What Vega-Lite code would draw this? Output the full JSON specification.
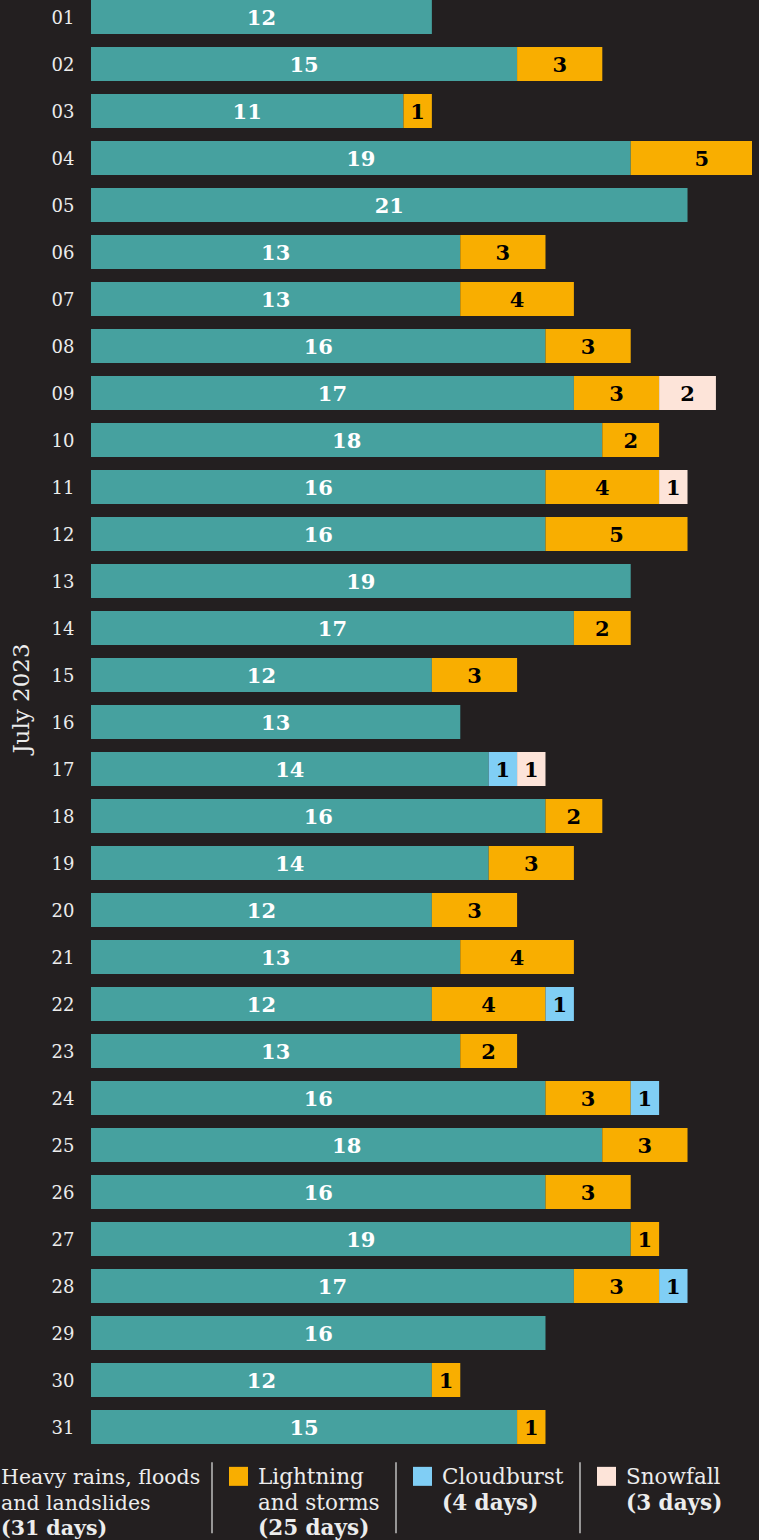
{
  "$schema": "https://vega.github.io/schema/vega-lite/v6.json",
  "width": 661,
  "height": 1444,
  "autosize": {"type": "none"},
  "padding": {"left": 91, "top": 0, "right": 7, "bottom": 96},
  "background": "#231f20",
  "config": {"view": {"stroke": null}},
  "datasets": {
    "days": [
      {"day": "01", "cat": "heavy", "k": 1, "n": 12},
      {"day": "02", "cat": "heavy", "k": 1, "n": 15},
      {"day": "02", "cat": "lightning", "k": 2, "n": 3},
      {"day": "03", "cat": "heavy", "k": 1, "n": 11},
      {"day": "03", "cat": "lightning", "k": 2, "n": 1},
      {"day": "04", "cat": "heavy", "k": 1, "n": 19},
      {"day": "04", "cat": "lightning", "k": 2, "n": 5},
      {"day": "05", "cat": "heavy", "k": 1, "n": 21},
      {"day": "06", "cat": "heavy", "k": 1, "n": 13},
      {"day": "06", "cat": "lightning", "k": 2, "n": 3},
      {"day": "07", "cat": "heavy", "k": 1, "n": 13},
      {"day": "07", "cat": "lightning", "k": 2, "n": 4},
      {"day": "08", "cat": "heavy", "k": 1, "n": 16},
      {"day": "08", "cat": "lightning", "k": 2, "n": 3},
      {"day": "09", "cat": "heavy", "k": 1, "n": 17},
      {"day": "09", "cat": "lightning", "k": 2, "n": 3},
      {"day": "09", "cat": "snowfall", "k": 4, "n": 2},
      {"day": "10", "cat": "heavy", "k": 1, "n": 18},
      {"day": "10", "cat": "lightning", "k": 2, "n": 2},
      {"day": "11", "cat": "heavy", "k": 1, "n": 16},
      {"day": "11", "cat": "lightning", "k": 2, "n": 4},
      {"day": "11", "cat": "snowfall", "k": 4, "n": 1},
      {"day": "12", "cat": "heavy", "k": 1, "n": 16},
      {"day": "12", "cat": "lightning", "k": 2, "n": 5},
      {"day": "13", "cat": "heavy", "k": 1, "n": 19},
      {"day": "14", "cat": "heavy", "k": 1, "n": 17},
      {"day": "14", "cat": "lightning", "k": 2, "n": 2},
      {"day": "15", "cat": "heavy", "k": 1, "n": 12},
      {"day": "15", "cat": "lightning", "k": 2, "n": 3},
      {"day": "16", "cat": "heavy", "k": 1, "n": 13},
      {"day": "17", "cat": "heavy", "k": 1, "n": 14},
      {"day": "17", "cat": "cloudburst", "k": 3, "n": 1},
      {"day": "17", "cat": "snowfall", "k": 4, "n": 1},
      {"day": "18", "cat": "heavy", "k": 1, "n": 16},
      {"day": "18", "cat": "lightning", "k": 2, "n": 2},
      {"day": "19", "cat": "heavy", "k": 1, "n": 14},
      {"day": "19", "cat": "lightning", "k": 2, "n": 3},
      {"day": "20", "cat": "heavy", "k": 1, "n": 12},
      {"day": "20", "cat": "lightning", "k": 2, "n": 3},
      {"day": "21", "cat": "heavy", "k": 1, "n": 13},
      {"day": "21", "cat": "lightning", "k": 2, "n": 4},
      {"day": "22", "cat": "heavy", "k": 1, "n": 12},
      {"day": "22", "cat": "lightning", "k": 2, "n": 4},
      {"day": "22", "cat": "cloudburst", "k": 3, "n": 1},
      {"day": "23", "cat": "heavy", "k": 1, "n": 13},
      {"day": "23", "cat": "lightning", "k": 2, "n": 2},
      {"day": "24", "cat": "heavy", "k": 1, "n": 16},
      {"day": "24", "cat": "lightning", "k": 2, "n": 3},
      {"day": "24", "cat": "cloudburst", "k": 3, "n": 1},
      {"day": "25", "cat": "heavy", "k": 1, "n": 18},
      {"day": "25", "cat": "lightning", "k": 2, "n": 3},
      {"day": "26", "cat": "heavy", "k": 1, "n": 16},
      {"day": "26", "cat": "lightning", "k": 2, "n": 3},
      {"day": "27", "cat": "heavy", "k": 1, "n": 19},
      {"day": "27", "cat": "lightning", "k": 2, "n": 1},
      {"day": "28", "cat": "heavy", "k": 1, "n": 17},
      {"day": "28", "cat": "lightning", "k": 2, "n": 3},
      {"day": "28", "cat": "cloudburst", "k": 3, "n": 1},
      {"day": "29", "cat": "heavy", "k": 1, "n": 16},
      {"day": "30", "cat": "heavy", "k": 1, "n": 12},
      {"day": "30", "cat": "lightning", "k": 2, "n": 1},
      {"day": "31", "cat": "heavy", "k": 1, "n": 15},
      {"day": "31", "cat": "lightning", "k": 2, "n": 1}
    ],
    "legend": [
      {"cat": "heavy", "line": 1, "text": "Heavy rains, floods", "bold": false},
      {"cat": "heavy", "line": 2, "text": "and landslides", "bold": false},
      {"cat": "heavy", "line": 3, "text": "(31 days)", "bold": true},
      {"cat": "lightning", "line": 1, "text": "Lightning", "bold": false},
      {"cat": "lightning", "line": 2, "text": "and storms", "bold": false},
      {"cat": "lightning", "line": 3, "text": "(25 days)", "bold": true},
      {"cat": "cloudburst", "line": 1, "text": "Cloudburst", "bold": false},
      {"cat": "cloudburst", "line": 2, "text": "(4 days)", "bold": true},
      {"cat": "snowfall", "line": 1, "text": "Snowfall", "bold": false},
      {"cat": "snowfall", "line": 2, "text": "(3 days)", "bold": true}
    ]
  },
  "layer": [
    {
      "data": {"name": "days"},
      "transform": [
        {"stack": "n", "groupby": ["day"], "sort": [{"field": "k", "order": "ascending"}], "as": ["s0", "s1"]},
        {"calculate": "(datum.s0 + datum.s1) / 2", "as": "mid"}
      ],
      "encoding": {
        "y": {
          "field": "day",
          "type": "ordinal",
          "scale": {"paddingInner": 0.2766, "paddingOuter": 0},
          "axis": {
            "title": "July 2023",
            "domain": false,
            "ticks": false,
            "grid": false,
            "labelPadding": 17,
            "labelOffset": 2,
            "labelFont": "DejaVu Serif",
            "labelFontSize": 18,
            "labelColor": "#ececec",
            "titleFont": "DejaVu Serif",
            "titleFontSize": 23,
            "titleFontWeight": "normal",
            "titleColor": "#ececec",
            "titleAngle": -90,
            "titleAlign": "center",
            "titleBaseline": "alphabetic",
            "titleX": -63,
            "titleY": 698
          }
        }
      },
      "layer": [
        {
          "mark": {"type": "bar", "clip": true, "opacity": 1},
          "encoding": {
            "x": {"field": "s0", "type": "quantitative", "scale": {"domain": [0, 23.27], "nice": false, "zero": true}, "axis": null},
            "x2": {"field": "s1"},
            "color": {
              "field": "cat",
              "type": "nominal",
              "scale": {"domain": ["heavy", "lightning", "cloudburst", "snowfall"], "range": ["#46a19f", "#f9ae00", "#80cef5", "#fde4d9"]},
              "legend": null
            }
          }
        },
        {
          "mark": {"type": "text", "font": "DejaVu Serif", "fontWeight": "bold", "fontSize": 21, "baseline": "middle", "align": "center", "dy": 2},
          "encoding": {
            "x": {"field": "mid", "type": "quantitative", "scale": {"domain": [0, 23.27], "nice": false, "zero": true}, "axis": null},
            "text": {"field": "n", "type": "quantitative"},
            "color": {"condition": {"test": "datum.cat === 'heavy'", "value": "#ffffff"}, "value": "#000000"}
          }
        }
      ]
    },
    {
      "data": {"name": "legend"},
      "layer": [
        {
          "transform": [{"filter": "datum.cat !== 'heavy' && datum.line === 1"}],
          "mark": {"type": "rule", "color": "#b4b4b4", "strokeWidth": 1.6},
          "encoding": {
            "x": {"field": "cat", "type": "nominal", "bandPosition": 0, "scale": {"type": "band", "domain": ["heavy", "lightning", "cloudburst", "snowfall"], "range": [-63, 673], "paddingInner": 0, "paddingOuter": 0}, "axis": null},
            "y": {"datum": 0.15, "type": "quantitative", "scale": {"domain": [1, 3], "range": [1484, 1535], "nice": false, "zero": false}, "axis": null},
            "y2": {"datum": 2.93}
          }
        },
        {
          "transform": [{"filter": "datum.cat !== 'heavy' && datum.line === 1"}],
          "mark": {"type": "point", "shape": "square", "size": 361, "filled": true, "opacity": 1, "strokeWidth": 0},
          "encoding": {
            "x": {"field": "cat", "type": "nominal", "bandPosition": 0.144, "scale": {"type": "band", "domain": ["heavy", "lightning", "cloudburst", "snowfall"], "range": [-63, 673], "paddingInner": 0, "paddingOuter": 0}, "axis": null},
            "y": {"datum": 0.7, "type": "quantitative", "scale": {"domain": [1, 3], "range": [1484, 1535], "nice": false, "zero": false}, "axis": null},
            "color": {"field": "cat", "type": "nominal", "legend": null}
          }
        },
        {
          "transform": [{"filter": "datum.cat !== 'heavy' && !datum.bold"}],
          "mark": {"type": "text", "font": "DejaVu Serif", "fontSize": 21.5, "align": "left", "baseline": "alphabetic", "dx": 46, "color": "#ececec"},
          "encoding": {
            "x": {"field": "cat", "type": "nominal", "bandPosition": 0, "scale": {"type": "band", "domain": ["heavy", "lightning", "cloudburst", "snowfall"], "range": [-63, 673], "paddingInner": 0, "paddingOuter": 0}, "axis": null},
            "y": {"field": "line", "type": "quantitative", "scale": {"domain": [1, 3], "range": [1484, 1535], "nice": false, "zero": false}, "axis": null},
            "text": {"field": "text", "type": "nominal"}
          }
        },
        {
          "transform": [{"filter": "datum.cat !== 'heavy' && datum.bold"}],
          "mark": {"type": "text", "font": "DejaVu Serif", "fontSize": 21.5, "fontWeight": "bold", "align": "left", "baseline": "alphabetic", "dx": 46, "color": "#ececec"},
          "encoding": {
            "x": {"field": "cat", "type": "nominal", "bandPosition": 0, "scale": {"type": "band", "domain": ["heavy", "lightning", "cloudburst", "snowfall"], "range": [-63, 673], "paddingInner": 0, "paddingOuter": 0}, "axis": null},
            "y": {"field": "line", "type": "quantitative", "scale": {"domain": [1, 3], "range": [1484, 1535], "nice": false, "zero": false}, "axis": null},
            "text": {"field": "text", "type": "nominal"}
          }
        },
        {
          "transform": [{"filter": "datum.cat === 'heavy' && !datum.bold"}],
          "mark": {"type": "text", "font": "DejaVu Serif", "fontSize": 20.5, "align": "left", "baseline": "alphabetic", "dx": -27, "color": "#ececec"},
          "encoding": {
            "x": {"field": "cat", "type": "nominal", "bandPosition": 0, "scale": {"type": "band", "domain": ["heavy", "lightning", "cloudburst", "snowfall"], "range": [-63, 673], "paddingInner": 0, "paddingOuter": 0}, "axis": null},
            "y": {"field": "line", "type": "quantitative", "scale": {"domain": [1, 3], "range": [1484, 1535], "nice": false, "zero": false}, "axis": null},
            "text": {"field": "text", "type": "nominal"}
          }
        },
        {
          "transform": [{"filter": "datum.cat === 'heavy' && datum.bold"}],
          "mark": {"type": "text", "font": "DejaVu Serif", "fontSize": 20.5, "fontWeight": "bold", "align": "left", "baseline": "alphabetic", "dx": -27, "color": "#ececec"},
          "encoding": {
            "x": {"field": "cat", "type": "nominal", "bandPosition": 0, "scale": {"type": "band", "domain": ["heavy", "lightning", "cloudburst", "snowfall"], "range": [-63, 673], "paddingInner": 0, "paddingOuter": 0}, "axis": null},
            "y": {"field": "line", "type": "quantitative", "scale": {"domain": [1, 3], "range": [1484, 1535], "nice": false, "zero": false}, "axis": null},
            "text": {"field": "text", "type": "nominal"}
          }
        }
      ]
    }
  ],
  "resolve": {"scale": {"x": "independent", "y": "independent"}}
}
